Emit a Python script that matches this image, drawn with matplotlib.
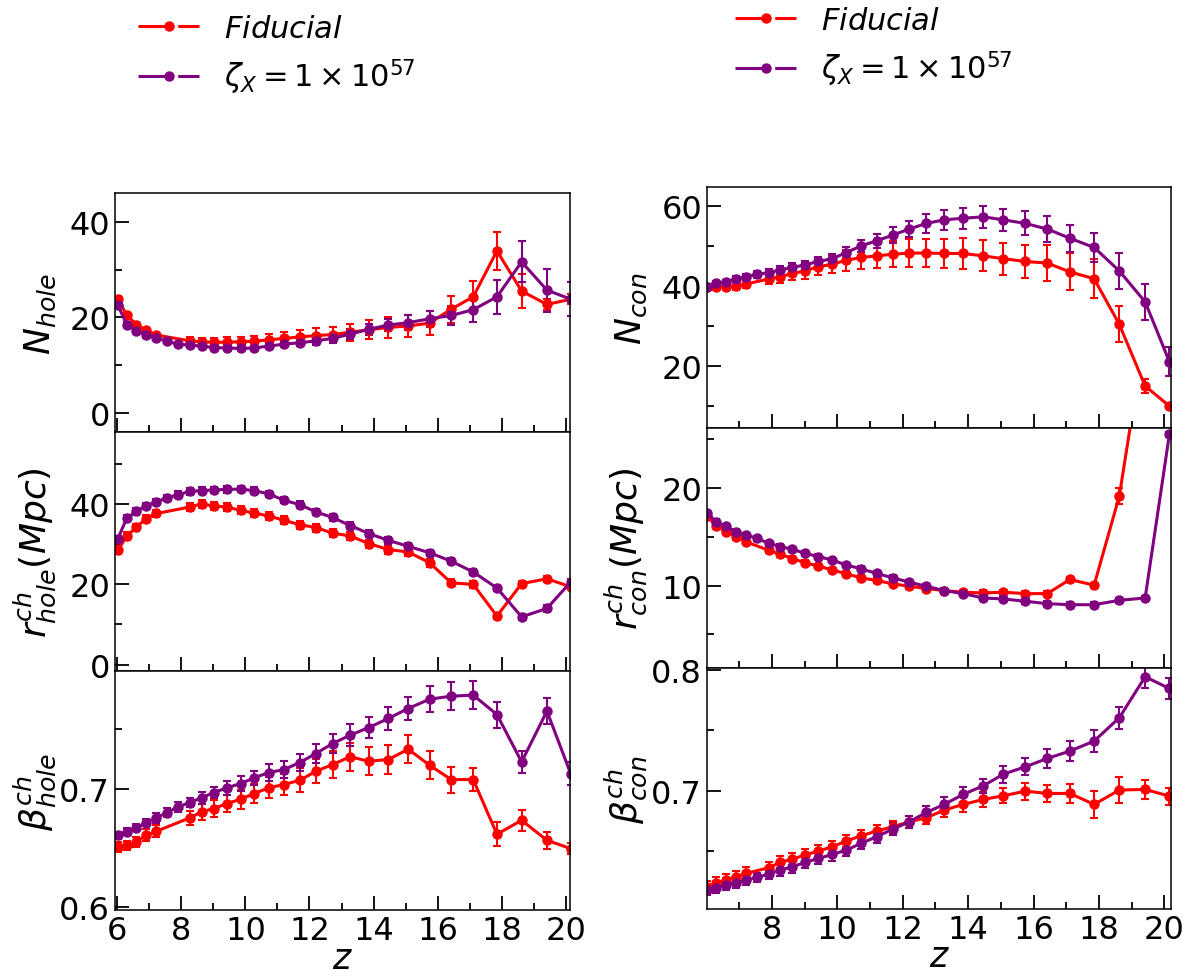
import matplotlib
matplotlib.use('Agg')
import matplotlib.pyplot as plt
from matplotlib.ticker import AutoMinorLocator, MultipleLocator
from matplotlib.lines import Line2D

# ---------------- data ----------------
z = [6.02, 6.30, 6.60, 6.90, 7.22, 7.55, 7.90, 8.26, 8.63, 9.01, 9.42, 9.85, 10.27,
     10.73, 11.20, 11.70, 12.20, 12.72, 13.27, 13.85, 14.46, 15.08, 15.75, 16.42,
     17.11, 17.85, 18.62, 19.41, 20.15]
# fiducial run lacks a few redshifts
z_fid_left = [6.02, 6.30, 6.60, 6.90, 7.22, 8.26, 8.63, 9.01, 9.42, 9.85, 10.27,
              10.73, 11.20, 11.70, 12.20, 12.72, 13.27, 13.85, 14.46, 15.08, 15.75,
              16.42, 17.11, 17.85, 18.62, 19.41, 20.15]
z_fid_right = [6.02, 6.30, 6.60, 6.90, 7.22, 7.90, 8.26, 8.63, 9.01, 9.42, 9.85,
               10.27, 10.73, 11.20, 11.70, 12.20, 12.72, 13.27, 13.85, 14.46, 15.08,
               15.75, 16.42, 17.11, 17.85, 18.62, 19.41, 20.15]

# N_hole
nhole_fid = [23.9, 20.4, 18.5, 17.3, 16.3, 15.1, 14.9, 14.8, 14.8, 14.9, 15.0, 15.3,
             15.6, 15.9, 16.2, 16.4, 16.9, 17.4, 17.9, 18.2, 18.8, 21.7, 24.3, 33.9,
             25.5, 22.7, 23.8]
nhole_fid_err = [0.6, 0.5, 0.5, 0.5, 0.5, 0.7, 0.8, 0.9, 1.0, 1.0, 1.1, 1.2, 1.3,
                 1.4, 1.5, 1.6, 1.8, 2.0, 2.2, 2.3, 2.5, 2.8, 3.2, 3.9, 3.6, 1.2, 1.0]
nhole_zx = [22.5, 18.5, 17.1, 16.4, 15.7, 15.0, 14.4, 14.2, 14.0, 13.7, 13.6, 13.5,
            13.6, 14.0, 14.4, 14.7, 15.1, 15.6, 16.5, 17.5, 18.4, 18.9, 19.7, 20.4,
            21.6, 24.3, 31.6, 25.7, 23.8]
nhole_zx_err = [0.5, 0.5, 0.4, 0.4, 0.4, 0.4, 0.4, 0.4, 0.4, 0.4, 0.4, 0.4, 0.5, 0.5,
                0.6, 0.7, 0.8, 0.9, 1.0, 1.1, 1.3, 1.5, 1.7, 2.0, 2.5, 3.5, 4.3, 4.5, 3.5]

# r_hole
rhole_fid = [28.5, 32.1, 34.3, 36.4, 37.7, 39.3, 40.1, 39.6, 39.3, 38.5, 37.8, 37.1,
             36.0, 34.9, 34.2, 32.8, 32.1, 30.2, 28.7, 28.1, 25.4, 20.4, 20.0, 12.1,
             20.2, 21.4, 19.4]
rhole_fid_err = [1.0, 0.9, 0.9, 0.9, 0.9, 0.9, 1.0, 1.0, 1.0, 1.0, 1.0, 1.0, 1.0, 1.0,
                 1.0, 1.0, 1.0, 1.0, 1.0, 1.0, 1.0, 0.9, 0.8, 0.8, 0.7, 0.7, 0.6]
rhole_zx = [31.4, 36.6, 38.2, 39.6, 40.6, 41.6, 42.4, 43.2, 43.4, 43.6, 43.7, 43.8,
            43.4, 42.6, 41.0, 39.9, 38.1, 36.7, 34.7, 32.7, 31.0, 29.5, 27.9, 25.8,
            23.1, 19.1, 11.9, 14.0, 20.6]
rhole_zx_err = [0.8] * 29

# beta_hole
bhole_fid = [0.6507, 0.6521, 0.6549, 0.6606, 0.6639, 0.6752, 0.6803, 0.6831, 0.6873,
             0.6910, 0.6958, 0.7006, 0.7034, 0.7070, 0.7146, 0.7203, 0.7268, 0.7231,
             0.7245, 0.7332, 0.7197, 0.7076, 0.7076, 0.6614, 0.6732, 0.6563, 0.6493]
bhole_fid_err = [0.004, 0.004, 0.004, 0.005, 0.005, 0.006, 0.007, 0.007, 0.007, 0.008,
                 0.008, 0.009, 0.009, 0.010, 0.010, 0.011, 0.012, 0.012, 0.012, 0.012,
                 0.012, 0.011, 0.010, 0.010, 0.009, 0.007, 0.005]
bhole_zx = [0.6606, 0.6634, 0.6668, 0.6713, 0.6752, 0.6797, 0.6845, 0.6882, 0.6921,
            0.6966, 0.7006, 0.7042, 0.7090, 0.7135, 0.7160, 0.7220, 0.7296, 0.7380,
            0.7451, 0.7515, 0.7592, 0.7676, 0.7755, 0.7780, 0.7789, 0.7625, 0.7225,
            0.7654, 0.7127]
bhole_zx_err = [0.003, 0.003, 0.003, 0.003, 0.004, 0.004, 0.004, 0.004, 0.005, 0.005,
                0.006, 0.006, 0.006, 0.007, 0.007, 0.007, 0.008, 0.008, 0.009, 0.009,
                0.010, 0.010, 0.011, 0.012, 0.012, 0.011, 0.009, 0.011, 0.010]

# N_con
ncon_fid = [39.8, 39.8, 39.8, 40.0, 40.5, 41.7, 42.3, 43.1, 43.75, 44.8, 45.4, 46.4,
            47.1, 47.5, 47.9, 48.2, 48.2, 48.1, 48.1, 47.5, 46.8, 46.1, 45.7, 43.5,
            41.8, 30.4, 15.0, 10.0]
ncon_fid_err = [0.6, 0.7, 0.8, 0.9, 1.0, 1.3, 1.5, 1.7, 1.9, 2.1, 2.3, 2.6, 2.8, 3.0,
                3.2, 3.4, 3.5, 3.7, 3.8, 3.9, 4.0, 4.2, 4.4, 4.6, 4.8, 4.5, 1.7, 0.6]
ncon_zx = [39.8, 40.7, 41.0, 41.8, 42.3, 42.9, 43.3, 44.0, 44.6, 45.25, 46.1, 46.8,
           48.3, 50.0, 51.25, 52.7, 54.2, 55.6, 56.5, 56.9, 57.25, 56.5, 55.6, 54.2,
           51.9, 49.6, 43.75, 36.0, 21.1]
ncon_zx_err = [0.5, 0.6, 0.6, 0.7, 0.7, 0.8, 0.8, 0.9, 1.0, 1.0, 1.1, 1.2, 1.4, 1.5,
               1.7, 1.9, 2.1, 2.3, 2.5, 2.6, 2.7, 2.8, 3.0, 3.2, 3.4, 3.7, 4.4, 4.6, 3.7]

# r_con
rcon_fid = [17.1, 16.14, 15.52, 15.03, 14.48, 13.62, 13.21, 12.76, 12.34, 12.0, 11.59,
            11.21, 10.79, 10.52, 10.17, 9.93, 9.69, 9.48, 9.31, 9.24, 9.31, 9.17, 9.17,
            10.62, 10.03, 19.17, 36.0, 40.0]
rcon_fid_err = [0.25] * 25 + [0.8, 1.0, 1.0]
rcon_zx = [17.41, 16.55, 16.07, 15.52, 15.17, 14.83, 14.34, 14.0, 13.72, 13.31, 12.97,
           12.62, 12.10, 11.72, 11.24, 10.79, 10.34, 9.93, 9.48, 9.17, 8.72, 8.62, 8.38,
           8.14, 8.03, 8.03, 8.48, 8.72, 25.5]
rcon_zx_err = [0.25] * 29

# beta_con
bcon_fid = [0.6204, 0.6232, 0.6260, 0.6287, 0.6315, 0.6362, 0.6406, 0.6434, 0.6467,
            0.6500, 0.6536, 0.6583, 0.6627, 0.6666, 0.6702, 0.6743, 0.6776, 0.6840,
            0.6887, 0.6928, 0.6959, 0.6997, 0.6978, 0.6978, 0.6887, 0.7006, 0.7011,
            0.6956]
bcon_fid_err = [0.005] * 17 + [0.006, 0.006, 0.006, 0.006, 0.007, 0.007, 0.008, 0.011,
                               0.011, 0.008, 0.007]
bcon_zx = [0.6177, 0.6196, 0.6218, 0.6238, 0.6260, 0.6282, 0.6309, 0.6343, 0.6370,
           0.6406, 0.6439, 0.6472, 0.6508, 0.6564, 0.6619, 0.6682, 0.6743, 0.6820,
           0.6887, 0.6970, 0.7041, 0.7138, 0.7199, 0.7268, 0.7329, 0.7412, 0.7605,
           0.7945, 0.7848]
bcon_zx_err = [0.004] * 7 + [0.005] * 11 + [0.006, 0.006, 0.006, 0.007, 0.007, 0.008,
                                            0.008, 0.009, 0.009, 0.009, 0.009]

labels = [r'$Fiducial$', r'$\zeta_X = 1\times10^{57}$']
colors = ['red', 'purple']

# ---------------- figure ----------------
W, H = 1189, 979
fig = plt.figure(figsize=(W / 100, H / 100), dpi=100)

def add_col(x0, x1, top, bot):
    axs = []
    h = (bot - top) / 3.0
    for i in range(3):
        t = top + i * h
        axs.append(fig.add_axes([x0 / W, 1 - (t + h) / H, (x1 - x0) / W, h / H]))
    return axs

left = add_col(115, 570, 194, 911.5)
right = add_col(707, 1171, 188, 910)

LW = 2.2
MS = 6.5

def draw(ax, zf, yf, ef, zp, yp, ep):
    for zz, yy, ee, c in ((zf, yf, ef, colors[0]), (zp, yp, ep, colors[1])):
        ax.errorbar(zz, yy, yerr=ee, color=c, marker='o', ms=MS, lw=LW,
                    ls='-', elinewidth=1.5, capsize=3, capthick=1.5)

def style(ax, xlim, ylim, major, show_x):
    ax.set_xlim(*xlim)
    ax.set_ylim(*ylim)
    ax.xaxis.set_major_locator(MultipleLocator(2))
    ax.xaxis.set_minor_locator(AutoMinorLocator(2))
    ax.yaxis.set_major_locator(MultipleLocator(major))
    ax.yaxis.set_minor_locator(AutoMinorLocator(2))
    ax.tick_params(which='both', direction='in', top=False, right=False, labelsize=23)
    ax.tick_params(which='major', length=10, width=1.3)
    ax.tick_params(which='minor', length=5, width=1.3)
    for s in ax.spines.values():
        s.set_linewidth(1.1)
    if not show_x:
        ax.tick_params(labelbottom=False)
    else:
        ax.set_xlabel(r'$z$', fontsize=25, labelpad=-4)

draw(left[0], z_fid_left, nhole_fid, nhole_fid_err, z, nhole_zx, nhole_zx_err)
draw(left[1], z_fid_left, rhole_fid, rhole_fid_err, z, rhole_zx, rhole_zx_err)
draw(left[2], z_fid_left, bhole_fid, bhole_fid_err, z, bhole_zx, bhole_zx_err)
draw(right[0], z_fid_right, ncon_fid, ncon_fid_err, z, ncon_zx, ncon_zx_err)
draw(right[1], z_fid_right, rcon_fid, rcon_fid_err, z, rcon_zx, rcon_zx_err)
draw(right[2], z_fid_right, bcon_fid, bcon_fid_err, z, bcon_zx, bcon_zx_err)

xl_left = (5.93, 20.13)
xl_right = (6.02, 20.2)
style(left[0], xl_left, (-4, 46), 20, False)
style(left[1], xl_left, (-1.7, 58), 20, False)
style(left[2], xl_left, (0.597, 0.799), 0.1, True)
style(right[0], xl_right, (4.6, 64.7), 20, False)
style(right[1], xl_right, (1.5, 26.2), 10, False)
style(right[2], xl_right, (0.602, 0.8015), 0.1, True)

left[0].set_ylabel(r'$N_{hole}$', fontsize=26)
left[1].set_ylabel(r'$r^{ch}_{hole}(Mpc)$', fontsize=26)
left[2].set_ylabel(r'$\beta^{ch}_{hole}$', fontsize=26)
right[0].set_ylabel(r'$N_{con}$', fontsize=26)
right[1].set_ylabel(r'$r^{ch}_{con}(Mpc)$', fontsize=26)
right[2].set_ylabel(r'$\beta^{ch}_{con}$', fontsize=26)
for a in left:
    a.yaxis.set_label_coords(-0.125, 0.5)
for a in right:
    a.yaxis.set_label_coords(-0.125, 0.5)

handles = [Line2D([], [], color=c, marker='o', ms=MS, lw=LW, dashes=(11, 2))
           for c in colors]
fig.legend(handles, labels, loc='upper left', bbox_to_anchor=(138 / W, 1 - 15 / H),
           frameon=False, fontsize=22, borderpad=0, borderaxespad=0,
           handlelength=2.0, handletextpad=0.8, labelspacing=0.45)
fig.legend(handles, labels, loc='upper left', bbox_to_anchor=(735 / W, 1 - 7 / H),
           frameon=False, fontsize=22, borderpad=0, borderaxespad=0,
           handlelength=2.0, handletextpad=0.8, labelspacing=0.45)

fig.savefig('out.png', dpi=100)
